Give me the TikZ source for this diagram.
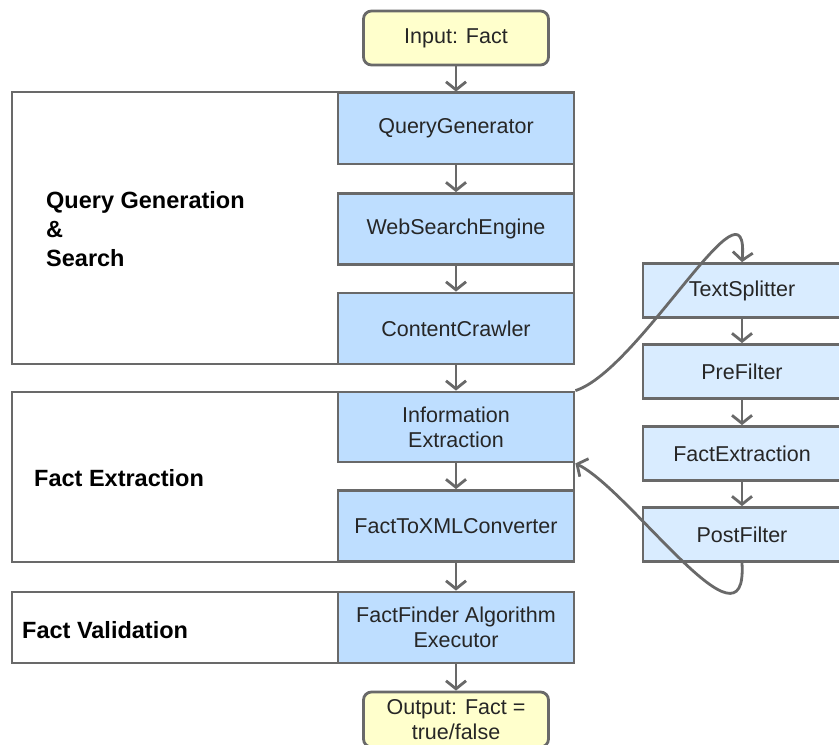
\documentclass[tikz,border=0pt]{standalone}
\usepackage{fontspec}
\setmainfont{Liberation Sans}
\usetikzlibrary{arrows.meta,positioning}

\definecolor{stepblue}{RGB}{190,222,255}
\definecolor{subblue}{RGB}{217,236,255}
\definecolor{ioyellow}{RGB}{255,255,204}
\definecolor{edgegray}{RGB}{105,105,105}

\tikzset{
  stage/.style={draw=edgegray,line width=2.8pt,fill=stepblue,
    minimum width=236pt,minimum height=71pt,align=center,
    font=\fontsize{21.5}{25}\selectfont,text=black!85},
  substage/.style={stage,fill=subblue,minimum width=198pt,minimum height=54pt},
  iobox/.style={stage,fill=ioyellow,rounded corners=8pt,
    minimum width=185pt,minimum height=54pt},
  groupbox/.style={draw=edgegray,line width=2.8pt,minimum width=562pt},
  grouplabel/.style={anchor=west,align=left,inner sep=0pt,
    font=\fontsize{23.5}{29}\selectfont\bfseries},
  flow/.style={draw=edgegray,line width=2.8pt,
    -{Straight Barb[length=8pt,width=20pt]}}
}

\begin{document}
\begin{tikzpicture}[x=1pt,y=-1pt]
\useasboundingbox (0,0) rectangle (839,745);
\clip (0,0) rectangle (839,745);

% phase frames
\node[groupbox,minimum height=272pt] (grpSearch) at (293,228) {};
\node[groupbox,minimum height=170pt] (grpExtract) at (293,477) {};
\node[groupbox,minimum height=71pt] (grpValid) at (293,627.5) {};

\node[grouplabel] (lblSearch) at (46,229) {Query Generation\\\&\\Search};
\node[grouplabel] (lblExtract) at (34,478) {Fact Extraction};
\node[grouplabel] (lblValid) at (22,630) {Fact Validation};

% main pipeline
\node[iobox] (input) at (456,38) {Input: Fact};
\node[stage] (qgen) at (456,128.5) {QueryGenerator};
\node[stage] (search) at (456,229) {WebSearchEngine};
\node[stage] (crawl) at (456,328.5) {ContentCrawler};
\node[stage,minimum height=70pt] (infox) at (456,427) {Information\\Extraction};
\node[stage] (toxml) at (456,526) {FactToXMLConverter};
\node[stage] (finder) at (456,627.5) {FactFinder Algorithm\\Executor};
\node[iobox,minimum height=55pt] (output) at (456,719.5) {Output: Fact =\\true/false};

% information extraction steps
\node[substage] (split) at (742,290.5) {TextSplitter};
\node[substage] (prefilt) at (742,371.5) {PreFilter};
\node[substage] (factex) at (742,453.5) {FactExtraction};
\node[substage] (postfilt) at (742,534.5) {PostFilter};

\draw[flow] (input) -- (qgen);
\draw[flow] (qgen) -- (search);
\draw[flow] (search) -- (crawl);
\draw[flow] (crawl) -- (infox);
\draw[flow] (infox) -- (toxml);
\draw[flow] (toxml) -- (finder);
\draw[flow] (finder) -- (output);

\draw[flow] (split) -- (prefilt);
\draw[flow] (prefilt) -- (factex);
\draw[flow] (factex) -- (postfilt);

% detour through the sub steps
\draw[flow] (infox.north east) .. controls (640,370) and (750,165) .. (split.north);
\draw[flow] (postfilt.south) .. controls (748,662) and (630,490) .. (infox.south east);
\end{tikzpicture}
\end{document}
